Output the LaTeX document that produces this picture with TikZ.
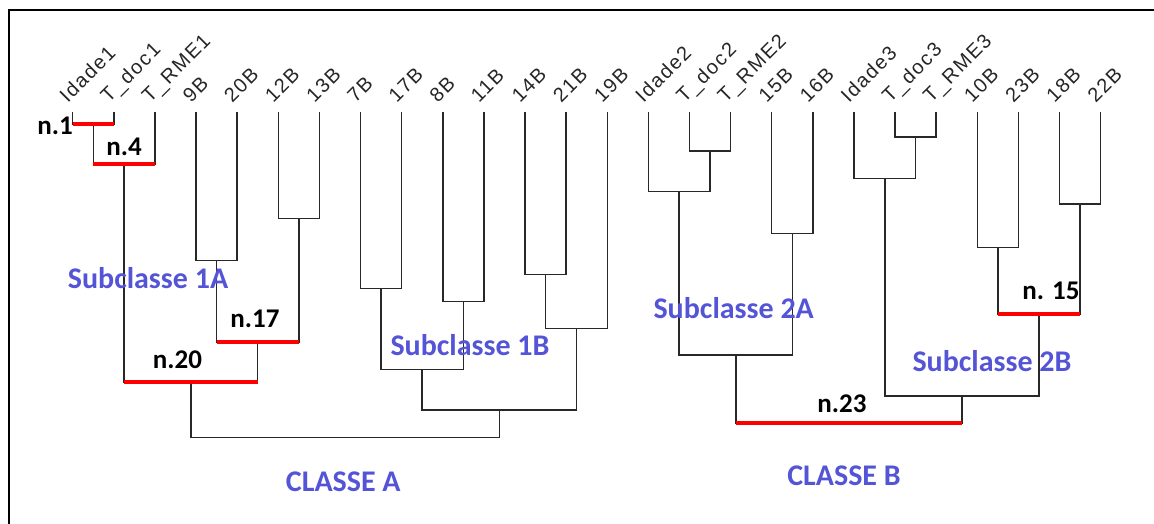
\documentclass[tikz,border=0pt]{standalone}
\usepackage{fontspec}
\usetikzlibrary{calc}
\newfontfamily\leaffont[LetterSpace=8]{Liberation Sans}
\newfontfamily\calib{Carlito}
\definecolor{subblue}{RGB}{84,84,214}
\definecolor{lineg}{RGB}{40,40,40}
\newcommand\junction[4]{%
  \path ($(#2)!.5!(#3)$) coordinate (#1tmp);
  \coordinate (#1) at (#1tmp |- 0,#4);
  \draw[dline] (#2) |- (#1) -| (#3);}
\begin{document}
\begin{tikzpicture}[x=1pt,y=-1pt,
  dline/.style={draw=lineg,line width=1.5pt},
  redbar/.style={draw=red,line width=4pt},
  framel/.style={draw=black,line width=2pt},
  leaflabel/.style={font=\leaffont\fontsize{20}{22}\selectfont,rotate=45,anchor=base west,inner sep=0pt,text=black!85},
  nlabel/.style={font=\calib\bfseries\fontsize{27}{30}\selectfont,anchor=base,inner sep=0pt,text=black},
  sublabel/.style={font=\calib\bfseries\fontsize{30}{34}\selectfont,anchor=base,inner sep=0pt,text=subblue}]
\useasboundingbox (0,0) rectangle (1154,524);
\coordinate (fbl) at (9,524);
\coordinate (ftl) at (9,10);
\coordinate (ftr) at (1154,10);
\draw[framel] (fbl) -- (ftl) -- (ftr);
% leaves
\foreach \lab [count=\i] in {Idade1,T\_doc1,T\_RME1,9B,20B,12B,13B,7B,17B,8B,11B,14B,21B,19B,Idade2,T\_doc2,T\_RME2,15B,16B,Idade3,T\_doc3,T\_RME3,10B,23B,18B,22B}{
  \coordinate (L\i) at ({72.7+41.12*(\i-1)},112);
  \node[leaflabel] (t\i) at ($(L\i)+(-5,-8)$) {\lab};
}
% classe A
\junction{m1}{L1}{L2}{124}
\junction{m2}{m1}{L3}{164}
\junction{m3}{L4}{L5}{260.7}
\junction{m4}{L6}{L7}{218.7}
\junction{m5}{m3}{m4}{342}
\junction{m6}{m2}{m5}{382.3}
\junction{m7}{L8}{L9}{288.3}
\junction{m8}{L10}{L11}{301.7}
\junction{m9}{m7}{m8}{369.3}
\junction{m10}{L12}{L13}{274.3}
\junction{m11}{m10}{L14}{328.3}
\junction{m12}{m9}{m11}{410}
\junction{m13}{m6}{m12}{437.3}
% classe B
\junction{m14}{L16}{L17}{151}
\junction{m15}{L15}{m14}{191.7}
\junction{m16}{L18}{L19}{233.3}
\junction{m17}{m15}{m16}{355}
\junction{m18}{L21}{L22}{137}
\junction{m19}{L20}{m18}{178.3}
\junction{m20}{L23}{L24}{247.7}
\junction{m21}{L25}{L26}{204}
\junction{m22}{m20}{m21}{314.3}
\junction{m23}{m19}{m22}{396}
\junction{m24}{m17}{m23}{423.3}
% red bars
\draw[redbar] (L1 |- m1) -- (L2 |- m1);
\draw[redbar] (m1 |- m2) -- (L3 |- m2);
\draw[redbar] (m3 |- m5) -- (m4 |- m5);
\draw[redbar] (m2 |- m6) -- (m5 |- m6);
\draw[redbar] (m20 |- m22) -- (m21 |- m22);
\draw[redbar] (m17 |- m24) -- (m23 |- m24);
% labels
\node[nlabel] (n1) at (55,134.5) {n.1};
\node[nlabel] (n4) at (124,156) {n.4};
\node[nlabel] (n17) at (255,327.3) {n.17};
\node[nlabel] (n20) at (177.5,368.3) {n.20};
\node[nlabel] (n23) at (842,412.3) {n.23};
\node[nlabel] (n15) at (1051,299.3) {n. 15};
\node[sublabel] (s1a) at (148,288.3) {Subclasse 1A};
\node[sublabel] (s1b) at (470,355) {Subclasse 1B};
\node[sublabel] (s2a) at (733.7,318.5) {Subclasse 2A};
\node[sublabel] (s2b) at (992,371.7) {Subclasse 2B};
\node[sublabel] (ca) at (343.3,491.7) {CLASSE A};
\node[sublabel] (cb) at (844,485.7) {CLASSE B};
\end{tikzpicture}
\end{document}
